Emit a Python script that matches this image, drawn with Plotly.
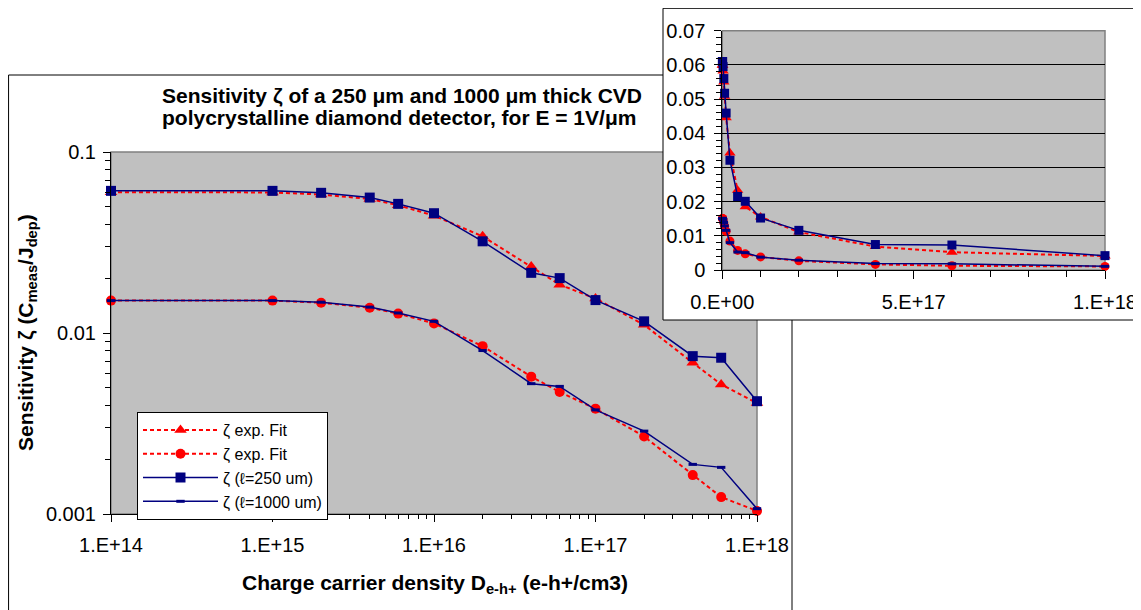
import plotly.graph_objects as go

# ---------------- data ----------------
density = [1e14, 1e15, 2e15, 4e15, 6e15, 1e16, 2e16, 4e16, 6e16,
           1e17, 2e17, 4e17, 6e17, 1e18]
fit_250 = [0.0600, 0.0598, 0.0582, 0.0550, 0.0508, 0.0445, 0.0342, 0.0233,
           0.0185, 0.0155, 0.0111, 0.00685, 0.0052, 0.0041]
fit_1000 = [0.0151, 0.0151, 0.0147, 0.0138, 0.0128, 0.0113, 0.00846, 0.00574,
            0.00472, 0.00382, 0.00268, 0.00164, 0.00124, 0.00104]
zeta_250 = [0.0610, 0.0610, 0.0595, 0.0560, 0.0517, 0.0459, 0.0321, 0.0215,
            0.0201, 0.0152, 0.0116, 0.00745, 0.0073, 0.0042]
zeta_1000 = [0.0151, 0.0151, 0.0148, 0.0139, 0.0129, 0.0116, 0.0080, 0.00525,
             0.00507, 0.00376, 0.00287, 0.00188, 0.00181, 0.00107]

x_tickvals = [1e14, 1e15, 1e16, 1e17, 1e18]
x_ticktext = ["1.E+14", "1.E+15", "1.E+16", "1.E+17", "1.E+18"]
y_tickvals = [0.001, 0.01, 0.1]
y_ticktext = ["0.001", "0.01", "0.1"]
inset_x_tickvals = [0, 5e17, 1e18]
inset_x_ticktext = ["0.E+00", "5.E+17", "1.E+18"]
inset_y_tickvals = [0, 0.01, 0.02, 0.03, 0.04, 0.05, 0.06, 0.07]
inset_y_ticktext = ["0", "0.01", "0.02", "0.03", "0.04", "0.05", "0.06", "0.07"]

legend_names = ["ζ exp. Fit", "ζ exp. Fit", "ζ (ℓ=250 um)", "ζ (ℓ=1000 um)"]
title_lines = ["Sensitivity ζ of a 250 μm and 1000 μm thick CVD",
               "polycrystalline diamond detector, for E = 1V/μm"]

# ---------------- styles ----------------
RED = "#FF0000"
NAVY = "#000080"
FONT = "Liberation Sans, Arial, sans-serif"
W, H = 1141, 610
OFF = 8  # the page body adds an 8 px margin; positions below are page pixels


def px_x(p):
    return max((p - OFF) / W, 0.0005)


def px_y(p):
    return min(1 - (p - OFF) / H, 0.9995)


series = [
    (fit_250, dict(color=RED, width=2, dash="4px,3px"),
     dict(symbol="triangle-up", size=11, color=RED)),
    (fit_1000, dict(color=RED, width=2, dash="4px,3px"),
     dict(symbol="circle", size=10, color=RED)),
    (zeta_250, dict(color=NAVY, width=1.5),
     dict(symbol="square", size=10, color=NAVY)),
    (zeta_1000, dict(color=NAVY, width=1.5),
     dict(symbol="line-ew", size=6, color=NAVY, line=dict(color=NAVY, width=3))),
]

fig = go.Figure()
for (vals, line, marker), name in zip(series, legend_names):
    fig.add_trace(go.Scatter(x=density, y=vals, mode="lines+markers", name=name,
                             line=line, marker=marker, cliponaxis=False,
                             xaxis="x", yaxis="y"))
for (vals, line, marker), name in zip(series, legend_names):
    m = dict(marker)
    if m["symbol"] != "line-ew":
        m["size"] = m["size"] - 1
    fig.add_trace(go.Scatter(x=density, y=vals, mode="lines+markers", name=name,
                             line=line, marker=m, cliponaxis=False,
                             showlegend=False, xaxis="x2", yaxis="y2"))

tickfont = dict(family=FONT, size=20, color="black")

minor_x = [m * 10 ** e for e in range(14, 18) for m in range(2, 10)]
minor_y = [m * 10 ** e for e in (-3, -2) for m in range(2, 10)]

fig.update_layout(
    width=W, height=H,
    margin=dict(l=0, r=0, t=0, b=0, pad=0, autoexpand=False),
    paper_bgcolor="white",
    plot_bgcolor="rgba(0,0,0,0)",
    showlegend=True,
    font=dict(family=FONT, color="black"),
    xaxis=dict(type="log", range=[14, 18], domain=[px_x(111), px_x(757)],
               anchor="y", automargin=False, tickmode="array",
               tickvals=x_tickvals,
               ticktext=x_ticktext, ticks="outside", ticklen=7, tickwidth=1,
               tickcolor="black", showline=True, linecolor="black",
               linewidth=1, showgrid=False, zeroline=False,
               tickfont=tickfont, ticklabelstandoff=6,
               minor=dict(tickvals=minor_x, ticks="outside", ticklen=4,
                          tickcolor="black", showgrid=False)),
    yaxis=dict(type="log", range=[-3, -1], domain=[px_y(514), px_y(152)],
               anchor="x", automargin=False, tickmode="array",
               tickvals=y_tickvals,
               ticktext=y_ticktext, ticks="outside", ticklen=7, tickwidth=1,
               tickcolor="black", showline=True, linecolor="black",
               linewidth=1, showgrid=False, zeroline=False,
               tickfont=tickfont, ticklabelstandoff=3,
               minor=dict(tickvals=minor_y, ticks="outside", ticklen=5,
                          tickcolor="black", showgrid=False)),
    xaxis2=dict(range=[0, 1e18], domain=[px_x(722.3), px_x(1105)],
                anchor="y2", automargin=False, tickmode="array",
                tickvals=inset_x_tickvals,
                ticktext=inset_x_ticktext, ticks="outside", ticklen=8,
                tickcolor="black", showline=True, linecolor="black",
                linewidth=1, showgrid=False, zeroline=False,
                tickfont=tickfont, ticklabelstandoff=6,
                minor=dict(dtick=1e17, tick0=0, ticks="outside", ticklen=6,
                           tickcolor="black", showgrid=False)),
    yaxis2=dict(range=[0, 0.07], domain=[px_y(270), px_y(30.7)],
                anchor="x2", automargin=False, tickmode="array",
                tickvals=inset_y_tickvals,
                ticktext=inset_y_ticktext, ticks="outside", ticklen=7,
                tickcolor="black", showline=True, linecolor="black",
                linewidth=1, showgrid=True, gridcolor="black", gridwidth=1,
                zeroline=False, tickfont=tickfont, ticklabelstandoff=5,
                minor=dict(dtick=0.002, tick0=0, ticks="outside", ticklen=5,
                           tickcolor="black", showgrid=False)),
    legend=dict(x=px_x(137), y=px_y(412), xanchor="left", yanchor="top",
                bgcolor="white", bordercolor="black", borderwidth=1,
                font=dict(family=FONT, size=16, color="black"),
                itemwidth=75, tracegroupgap=0),
)

shapes = [
    # main chart white frame
    dict(type="rect", xref="paper", yref="paper", x0=px_x(6), x1=px_x(792),
         y0=px_y(640), y1=px_y(75), fillcolor="white",
         line=dict(color="black", width=1), layer="below"),
    # main plot area (gray)
    dict(type="rect", xref="x domain", yref="y domain", x0=0, x1=1, y0=0, y1=1,
         fillcolor="#C0C0C0", line=dict(color="#808080", width=1.5),
         layer="below"),
    # main gridline at 0.01
    dict(type="line", xref="x domain", yref="y", x0=0, x1=1,
         y0=-2, y1=-2, line=dict(color="black", width=1), layer="below"),
    # inset white frame
    dict(type="rect", xref="paper", yref="paper", x0=px_x(663), x1=px_x(1140),
         y0=px_y(320), y1=px_y(5), fillcolor="white",
         line=dict(color="black", width=1), layer="below"),
    # inset plot area (gray)
    dict(type="rect", xref="x2 domain", yref="y2 domain", x0=0, x1=1, y0=0, y1=1,
         fillcolor="#C0C0C0", line=dict(color="#808080", width=1.5),
         layer="below"),
]
fig.update_layout(shapes=shapes)

for line_text, yc in zip(title_lines, (95, 117)):
    fig.add_annotation(
        text="<b>" + line_text + "</b>",
        xref="paper", yref="paper", x=px_x(160), y=px_y(yc),
        xanchor="left", yanchor="middle", align="left", showarrow=False,
        font=dict(family=FONT, size=21, color="black"))
fig.add_annotation(
    text="<b>Sensitivity ζ (C<sub>meas</sub>/J<sub>dep</sub>)</b>",
    xref="paper", yref="paper", x=px_x(27), y=px_y(333),
    xanchor="center", yanchor="middle", textangle=-90, showarrow=False,
    font=dict(family=FONT, size=21, color="black"))
fig.add_annotation(
    text="<b>Charge carrier density D<sub>e-h+</sub> (e-h+/cm3)</b>",
    xref="paper", yref="paper", x=px_x(435), y=px_y(584),
    xanchor="center", yanchor="middle", showarrow=False,
    font=dict(family=FONT, size=21, color="black"))

fig.write_html("out.html")
